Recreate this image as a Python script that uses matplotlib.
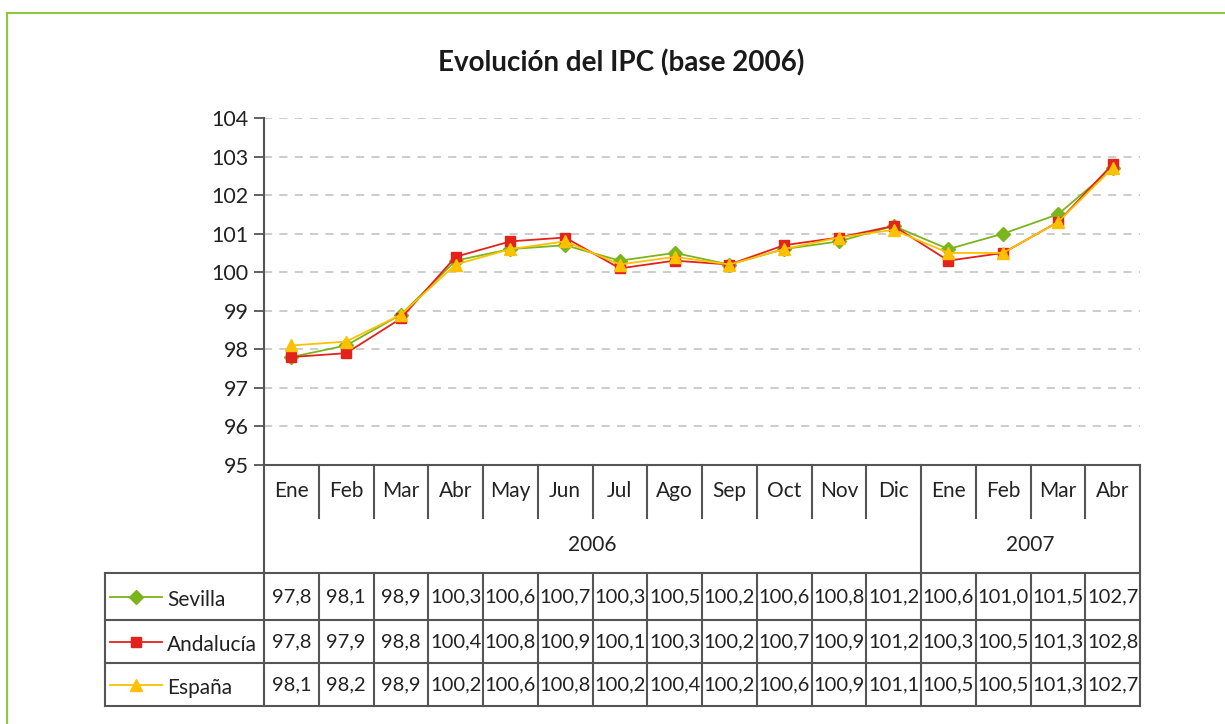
import numpy as np
import matplotlib.pyplot as plt
from matplotlib.transforms import blended_transform_factory

plt.rcParams['font.family'] = ['Lato', 'DejaVu Sans']

months = ['Ene', 'Feb', 'Mar', 'Abr', 'May', 'Jun', 'Jul', 'Ago', 'Sep', 'Oct', 'Nov', 'Dic',
          'Ene', 'Feb', 'Mar', 'Abr']
years = ['2006', '2007']
year_counts = [12, 4]
series_names = ['Sevilla', 'Andalucía', 'España']
sevilla = [97.8, 98.1, 98.9, 100.3, 100.6, 100.7, 100.3, 100.5, 100.2, 100.6, 100.8, 101.2,
           100.6, 101.0, 101.5, 102.7]
andalucia = [97.8, 97.9, 98.8, 100.4, 100.8, 100.9, 100.1, 100.3, 100.2, 100.7, 100.9, 101.2,
             100.3, 100.5, 101.3, 102.8]
espana = [98.1, 98.2, 98.9, 100.2, 100.6, 100.8, 100.2, 100.4, 100.2, 100.6, 100.9, 101.1,
          100.5, 100.5, 101.3, 102.7]
series_values = [sevilla, andalucia, espana]
colors = ['#7AB51D', '#E3221B', '#FFC000']
markers = ['D', 's', '^']
msizes = [7, 7, 9]

W, H = 1225, 724
fig = plt.figure(figsize=(W / 100, H / 100), dpi=100)

# green frame (top and left)
fig.add_artist(plt.Line2D([7 / W, 7 / W], [0, 1 - 13 / H], color='#8DC63F', lw=1.5))
fig.add_artist(plt.Line2D([7 / W, 1], [1 - 13 / H, 1 - 13 / H], color='#8DC63F', lw=1.5))

left, right, top, bottom = 264, 1140, 118, 465
ax = fig.add_axes([left / W, 1 - bottom / H, (right - left) / W, (bottom - top) / H])

x = np.arange(len(months))
for vals, c, m, ms, name in zip(series_values, colors, markers, msizes, series_names):
    ax.plot(x, vals, color=c, marker=m, markersize=ms, lw=1.3, label=name, clip_on=False, zorder=3)

ax.set_xlim(-0.5, len(months) - 0.5)
ax.set_ylim(95, 104)
ax.set_yticks(range(95, 105))
ax.tick_params(axis='y', labelsize=15.5, length=7, color='#555555', width=1.3, pad=4,
               labelcolor='#222222')
ax.set_xticks([])
for s in ['top', 'right', 'bottom']:
    ax.spines[s].set_visible(False)
ax.spines['left'].set_color('#555555')
ax.spines['left'].set_linewidth(1.5)
for yv in range(96, 105):
    ax.axhline(yv, color='#C8C8C8', lw=1.3, ls=(0, (4.5, 4)), zorder=1)

fig.text(621 / W, 1 - 63 / H, 'Evolución del IPC (base 2006)', ha='center', va='center',
         fontsize=20, fontweight='bold', color='#1a1a1a')

# data table below the plot
tr = blended_transform_factory(ax.transData, ax.transAxes)
ph = bottom - top
def ya(py):
    return -(py - bottom) / ph

lc = '#555555'
lw = 1.5
def line(x0, x1, y0, y1):
    ax.add_line(plt.Line2D([x0, x1], [y0, y1], transform=tr, color=lc, lw=lw, clip_on=False))

n = len(months)
xl = -0.5 - (left - 105) / ((right - left) / n)
y_month = ya(518)
y_year = ya(573)
row_y = [ya(573), ya(620), ya(663), ya(706)]

line(-0.5, n - 0.5, 0, 0)
line(-0.5, -0.5, 0, row_y[-1])
line(n - 0.5, n - 0.5, 0, row_y[-1])
for i in range(1, n):
    line(i - 0.5, i - 0.5, 0, y_month)
    line(i - 0.5, i - 0.5, y_year, row_y[-1])
# boundary between years
start = 0
for cnt in year_counts[:-1]:
    start += cnt
    line(start - 0.5, start - 0.5, y_month, y_year)
for yy in row_y:
    line(xl, n - 0.5, yy, yy)
line(xl, xl, row_y[0], row_y[-1])

for i, mname in enumerate(months):
    ax.text(i, ya(491), mname, transform=tr, ha='center', va='center', fontsize=15, color='#222222')
start = 0
for yname, cnt in zip(years, year_counts):
    ax.text(start + (cnt - 1) / 2, ya(545), yname, transform=tr, ha='center', va='center',
            fontsize=15, color='#222222')
    start += cnt

col_w = (right - left) / n
for r, (vals, c, m, ms, name) in enumerate(zip(series_values, colors, markers, msizes, series_names)):
    yc = (row_y[r] + row_y[r + 1]) / 2
    for i, v in enumerate(vals):
        ax.text(i, yc, f'{v:.1f}'.replace('.', ','), transform=tr, ha='center', va='center',
                fontsize=14.5, color='#222222')
    x0 = xl + 5 / col_w
    x1 = xl + 57 / col_w
    ax.add_line(plt.Line2D([x0, x1], [yc, yc], transform=tr, color=c, lw=1.3, clip_on=False))
    ax.add_line(plt.Line2D([(x0 + x1) / 2], [yc], transform=tr, color=c, marker=m,
                           markersize=ms, clip_on=False))
    ax.text(xl + 62 / col_w, yc - 0.01, name, transform=tr, ha='left', va='center',
            fontsize=15, color='#222222')

fig.savefig('out.png', dpi=100)
